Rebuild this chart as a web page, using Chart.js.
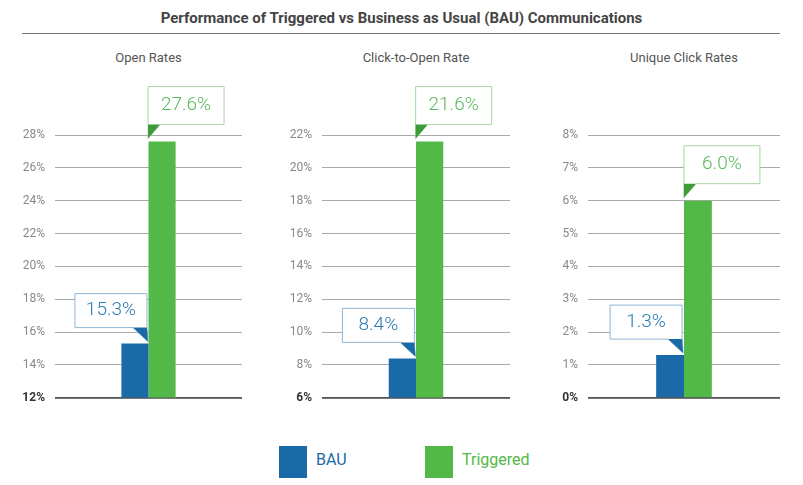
<!DOCTYPE html>
<html><head><meta charset="utf-8">
<script src="https://cdn.jsdelivr.net/npm/chart.js@4"></script>
<style>
body{margin:0;width:803px;height:485px;background:#fff;font-family:"DIN","Roboto",sans-serif;position:relative;overflow:hidden}
.t{position:absolute;left:0;width:803px;top:9px;text-align:center;font:bold 15px Roboto;color:#444}
.hr{position:absolute;left:22px;width:758px;top:33px;border-top:1px solid #777}
.sub{position:absolute;top:50px;font:13px Roboto;color:#555;text-align:center}
.c{position:absolute;top:85px;height:330px}
.lg{position:absolute;top:450px;font:16px Roboto}
.sw{position:absolute;top:446px;width:28px;height:32px}
</style></head><body>
<div class="t">Performance of Triggered vs Business as Usual (BAU) Communications</div>
<div class="hr"></div>
<div class="sub" style="left:55px;width:187px">Open Rates</div>
<div class="sub" style="left:322px;width:188px">Click-to-Open Rate</div>
<div class="sub" style="left:588px;width:192px">Unique Click Rates</div>
<div class="c" style="left:0;width:265px"><canvas id="c0"></canvas></div>
<div class="c" style="left:265px;width:265px"><canvas id="c1"></canvas></div>
<div class="c" style="left:535px;width:255px"><canvas id="c2"></canvas></div>
<div class="sw" style="left:279px;background:#1a6aa8"></div>
<div class="lg" style="left:316px;color:#1a6aa8">BAU</div>
<div class="sw" style="left:425px;background:#52b848"></div>
<div class="lg" style="left:462px;color:#52b848">Triggered</div>
<script>
const panels = ['Open Rates', 'Click-to-Open Rate', 'Unique Click Rates'];
const bauValues = [15.3, 8.4, 1.3];
const triggeredValues = [27.6, 21.6, 6.0];
const axisMin = [12, 6, 0];
const axisMax = [28, 22, 8];
const axisStep = [2, 2, 1];
const axisWidth = [55, 57, 53];
const rightPad = [23, 20, 10];

const callouts = {
  id: 'callouts',
  afterDatasetsDraw(chart) {
    const ctx = chart.ctx;
    ctx.save();
    ctx.font = '300 19px Roboto';
    ctx.textAlign = 'center'; ctx.textBaseline = 'middle';
    const b = chart.getDatasetMeta(0).data[0];
    const t = chart.getDatasetMeta(1).data[0];
    const bx = b.x + 13, by = b.y;
    // BAU box
    let x0 = bx - 73, x1 = bx - 1, y0 = by - 50, y1 = by - 16;
    ctx.fillStyle = '#fff'; ctx.strokeStyle = '#8fb5d3'; ctx.lineWidth = 1;
    ctx.beginPath();
    ctx.moveTo(x0, y0); ctx.lineTo(x1, y0); ctx.lineTo(x1, y1); ctx.lineTo(bx, by - 2);
    ctx.lineTo(x1 - 14, y1); ctx.lineTo(x0, y1); ctx.closePath();
    ctx.fill(); ctx.stroke();
    ctx.fillStyle = '#1a6aa8'; ctx.beginPath();
    ctx.moveTo(x1 - 14, y1); ctx.lineTo(x1, y1); ctx.lineTo(bx, by - 2); ctx.closePath(); ctx.fill();
    ctx.fillStyle = '#2a7ab0';
    ctx.fillText(bauValues[chart.options.idx].toFixed(1) + '%', (x0 + x1) / 2, (y0 + y1) / 2);
    // Triggered box
    const tx = t.x - 14, ty = t.y;
    x0 = tx; x1 = tx + 76; y0 = ty - 55; y1 = ty - 17;
    ctx.fillStyle = '#fff'; ctx.strokeStyle = '#a6d8a0';
    ctx.beginPath();
    ctx.moveTo(x0, y0); ctx.lineTo(x1, y0); ctx.lineTo(x1, y1); ctx.lineTo(x0 + 12, y1);
    ctx.lineTo(tx, ty - 3); ctx.lineTo(x0, y1); ctx.closePath();
    ctx.fill(); ctx.stroke();
    ctx.fillStyle = '#3f9a3a'; ctx.beginPath();
    ctx.moveTo(x0, y1); ctx.lineTo(x0 + 12, y1); ctx.lineTo(tx, ty - 3); ctx.closePath(); ctx.fill();
    ctx.fillStyle = '#5cb85c';
    ctx.fillText(triggeredValues[chart.options.idx].toFixed(1) + '%', (x0 + x1) / 2, (y0 + y1) / 2);
    ctx.restore();
  }
};

panels.forEach((name, i) => {
  new Chart(document.getElementById('c' + i), {
    type: 'bar',
    data: {
      labels: [name],
      datasets: [
        { label: 'BAU', data: [bauValues[i]], backgroundColor: '#1a6aa8', categoryPercentage: 0.29, barPercentage: 1 },
        { label: 'Triggered', data: [triggeredValues[i]], backgroundColor: '#52b848', categoryPercentage: 0.29, barPercentage: 1 }
      ]
    },
    options: {
      idx: i,
      responsive: true, maintainAspectRatio: false, animation: false,
      layout: { padding: { top: 50, bottom: 11, right: rightPad[i] } },
      plugins: { legend: { display: false }, tooltip: { enabled: false } },
      scales: {
        x: { display: false },
        y: {
          min: axisMin[i], max: axisMax[i],
          afterFit(s) { s.width = axisWidth[i]; },
          border: { display: false },
          grid: {
            drawTicks: false,
            color: c => c.index === 0 ? '#555' : '#aaa',
            lineWidth: 1,
            borderDash: [5, 4]
          },
          ticks: {
            stepSize: axisStep[i], padding: 10,
            callback: v => v + '%',
            color: c => c.index === 0 ? '#333' : '#888',
            font: c => ({ family: 'Roboto', size: 12, weight: c.index === 0 ? 'bold' : 'normal' })
          }
        }
      }
    },
    plugins: [callouts, {
      id: 'baseline',
      afterDatasetsDraw(chart) {
        const a = chart.chartArea, ctx = chart.ctx;
        ctx.save(); ctx.strokeStyle = '#555'; ctx.lineWidth = 1;
        ctx.beginPath(); ctx.moveTo(a.left, a.bottom + 0.5); ctx.lineTo(a.right, a.bottom + 0.5); ctx.stroke();
        ctx.restore();
      }
    }]
  });
});
</script>
</body></html>
